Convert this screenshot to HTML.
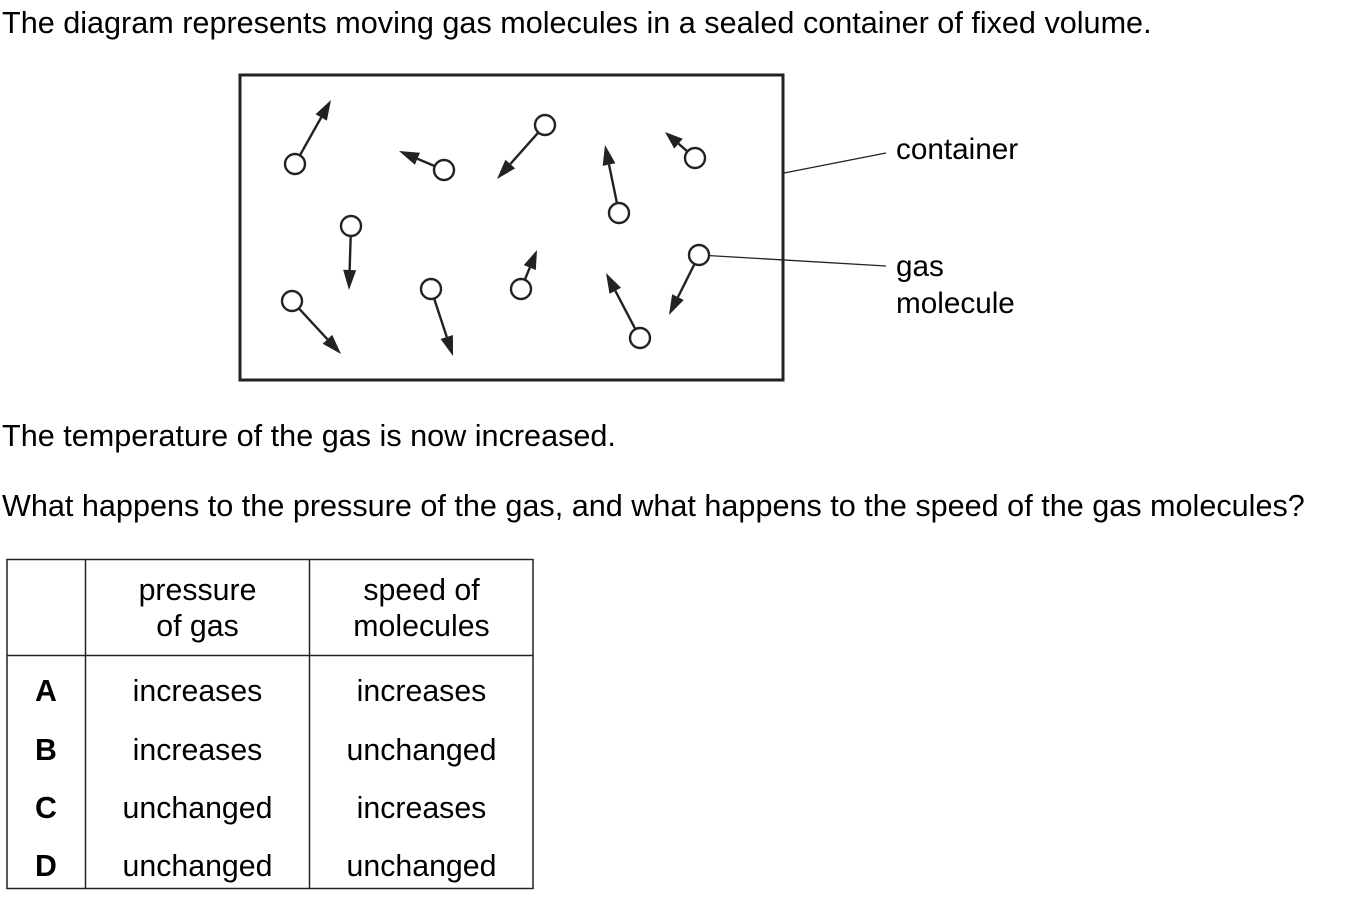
<!DOCTYPE html>
<html><head><meta charset="utf-8"><style>
body{margin:0;width:1354px;height:899px;background:#fff;font-family:"Liberation Sans",Arial,sans-serif;color:#000;position:relative;overflow:hidden}
.t{position:absolute;font-size:30.6px;white-space:nowrap;line-height:1}
.c{position:absolute;font-size:30.3px;white-space:nowrap;line-height:36px;height:36px;text-align:center;transform:translateY(-18px)}
</style></head><body>
<div class="t" style="left:2px;top:8px">The diagram represents moving gas molecules in a sealed container of fixed volume.</div>
<svg width="1354" height="899" style="position:absolute;left:0;top:0">
<rect x="240" y="75" width="543" height="305" fill="none" stroke="#222" stroke-width="3"/>
<line x1="784" y1="173" x2="886" y2="153" stroke="#222" stroke-width="1.3"/>
<line x1="699" y1="255" x2="886" y2="266" stroke="#222" stroke-width="1.3"/>
<g id="mols"></g>
<text x="896" y="159" font-size="29.7" font-family="Liberation Sans">container</text>
<text x="896" y="276" font-size="29.7" font-family="Liberation Sans">gas</text>
<text x="896" y="313" font-size="29.7" font-family="Liberation Sans">molecule</text>
<g stroke="#222" stroke-width="1.5" fill="none">
<rect x="7" y="559.5" width="526" height="329"/>
<line x1="85.5" y1="559" x2="85.5" y2="888"/>
<line x1="309.5" y1="559" x2="309.5" y2="888"/>
<line x1="7" y1="655.5" x2="533" y2="655.5"/>
</g>
</svg>
<div class="t" style="left:2px;top:421px">The temperature of the gas is now increased.</div>
<div class="t" style="left:2px;top:491px">What happens to the pressure of the gas, and what happens to the speed of the gas molecules?</div>
<div class="c" style="left:86px;width:223px;top:591px">pressure</div>
<div class="c" style="left:86px;width:223px;top:627px">of gas</div>
<div class="c" style="left:310px;width:223px;top:591px">speed of</div>
<div class="c" style="left:310px;width:223px;top:627px">molecules</div>
<div class="c" style="left:7px;width:78px;top:692px;font-weight:bold">A</div>
<div class="c" style="left:86px;width:223px;top:692px">increases</div>
<div class="c" style="left:310px;width:223px;top:692px">increases</div>
<div class="c" style="left:7px;width:78px;top:751px;font-weight:bold">B</div>
<div class="c" style="left:86px;width:223px;top:751px">increases</div>
<div class="c" style="left:310px;width:223px;top:751px">unchanged</div>
<div class="c" style="left:7px;width:78px;top:809px;font-weight:bold">C</div>
<div class="c" style="left:86px;width:223px;top:809px">unchanged</div>
<div class="c" style="left:310px;width:223px;top:809px">increases</div>
<div class="c" style="left:7px;width:78px;top:867px;font-weight:bold">D</div>
<div class="c" style="left:86px;width:223px;top:867px">unchanged</div>
<div class="c" style="left:310px;width:223px;top:867px">unchanged</div>
<script>
const cx=[295,444,545,619,695,351,292,431,521,640,699];
const cy=[164,170,125,213,158,226,301,289,289,338,255];
const tx=[331,399,497,605,665,349,341,453,537,606,669];
const ty=[100,151,179,145,132,290,354,356,250,273,315];
const g=document.getElementById('mols');const NS='http://www.w3.org/2000/svg';
for(let i=0;i<cx.length;i++){
 const dx=tx[i]-cx[i],dy=ty[i]-cy[i],L=Math.hypot(dx,dy),ux=dx/L,uy=dy/L,r=10;
 const hl=Math.min(20,L*0.45),hw=6.5;
 const bx=tx[i]-ux*hl,by=ty[i]-uy*hl;
 const ln=document.createElementNS(NS,'line');
 
 
 ln.setAttribute('x1',cx[i]+ux*r);ln.setAttribute('y1',cy[i]+uy*r);ln.setAttribute('x2',bx);ln.setAttribute('y2',by);
 ln.setAttribute('stroke','#222');ln.setAttribute('stroke-width','2.4');g.appendChild(ln);
 const p=document.createElementNS(NS,'polygon');
 
 
 p.setAttribute('points',`${tx[i]},${ty[i]} ${bx-uy*hw},${by+ux*hw} ${bx+uy*hw},${by-ux*hw}`);
 p.setAttribute('fill','#222');g.appendChild(p);
 const c=document.createElementNS(NS,'circle');
 
 
 c.setAttribute('cx',cx[i]);c.setAttribute('cy',cy[i]);c.setAttribute('r',r);
 c.setAttribute('fill','#fff');c.setAttribute('stroke','#222');c.setAttribute('stroke-width','2.4');g.appendChild(c);
}
</script>
</body></html>
